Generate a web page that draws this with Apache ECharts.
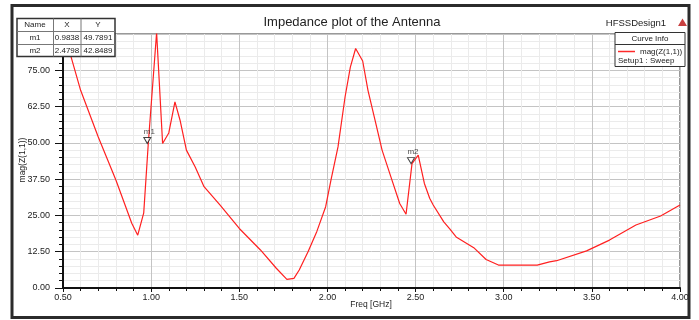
<!DOCTYPE html>
<html>
<head>
<meta charset="utf-8">
<script src="https://cdn.jsdelivr.net/npm/echarts@6/dist/echarts.min.js"></script>
<style>
html,body{margin:0;padding:0;background:#fff;}
#c{width:699px;height:320px;}
</style>
</head>
<body>
<div id="c"></div>
<script>
// Data
var freq = [0.50, 0.53, 0.60, 0.70, 0.80, 0.89, 0.924, 0.958, 0.9838, 1.031, 1.065, 1.10, 1.135, 1.164, 1.20, 1.25, 1.30, 1.39, 1.50, 1.62, 1.71, 1.77, 1.81, 1.84, 1.89, 1.94, 1.99, 2.02, 2.06, 2.10, 2.13, 2.16, 2.20, 2.23, 2.27, 2.31, 2.36, 2.41, 2.446, 2.4798, 2.515, 2.55, 2.58, 2.60, 2.66, 2.695, 2.73, 2.83, 2.90, 2.97, 3.11, 3.19, 3.26, 3.30, 3.47, 3.60, 3.75, 3.89, 4.00];
var magZ = [88.5, 83.0, 68.1, 52.0, 37.2, 22.3, 18.2, 25.9, 49.79, 88.0, 49.8, 53.4, 64.1, 57.8, 47.5, 41.7, 34.9, 28.6, 20.5, 13.1, 6.8, 3.0, 3.3, 6.2, 12.5, 19.5, 28.0, 37.2, 48.6, 65.8, 76.1, 82.5, 78.2, 68.1, 57.8, 47.5, 38.3, 29.1, 25.4, 42.85, 45.8, 36.0, 30.9, 28.6, 22.8, 20.3, 17.6, 13.9, 9.8, 7.9, 7.9, 7.9, 9.0, 9.4, 12.8, 16.5, 21.7, 24.8, 28.6];
var markerNames = ['m1', 'm2'];
var markerX = [0.9838, 2.4798];
var markerY = [49.7891, 42.8489];
var markerXText = ['0.9838', '2.4798'];
var markerYText = ['49.7891', '42.8489'];
var xTicks = {min: 0.5, max: 4.0, interval: 0.5};
var yTicks = {min: 0, max: 87.5, interval: 12.5};

var FONT = '"Liberation Sans", Arial, sans-serif';
var chart = echarts.init(document.getElementById('c'), null, {renderer: 'canvas'});

var lineData = freq.map(function (f, i) { return [f, magZ[i]]; });
var markData = markerNames.map(function (n, i) { return {name: n, value: [markerX[i], markerY[i]]}; });

function txt(x, y, s, size, align, extra) {
  var o = {type: 'text', x: x, y: y, z: 100, silent: true,
    style: {text: s, fill: '#222', font: size + 'px ' + FONT, textAlign: align || 'center', textVerticalAlign: 'middle'}};
  if (extra) { for (var k in extra) o[k] = extra[k]; }
  return o;
}
function ln(x1, y1, x2, y2, color, w) {
  return {type: 'line', z: 100, silent: true, shape: {x1: x1, y1: y1, x2: x2, y2: y2}, style: {stroke: color, lineWidth: w}};
}

var graphics = [
  {type: 'rect', z: 99, silent: true, shape: {x: 12, y: 5.5, width: 677, height: 312}, style: {fill: 'none', stroke: '#2b2b2b', lineWidth: 3}},
  txt(352, 22, 'Impedance plot of the Antenna', 13),
  txt(666, 23, 'HFSSDesign1', 9.5, 'right'),
  {type: 'polygon', z: 100, silent: true, shape: {points: [[682.5, 18.5], [678, 26], [687, 26]]}, style: {fill: '#c84040'}},
  // marker table
  {type: 'rect', z: 100, silent: true, shape: {x: 17, y: 18.5, width: 98, height: 38}, style: {fill: '#fff', stroke: '#333', lineWidth: 1.5}},
  ln(53.5, 18.5, 53.5, 56.5, '#777', 1),
  ln(81, 18.5, 81, 56.5, '#777', 1),
  ln(17, 31.5, 115, 31.5, '#777', 1),
  ln(17, 44.5, 115, 44.5, '#777', 1),
  txt(35, 25, 'Name', 8),
  txt(67, 25, 'X', 8),
  txt(98, 25, 'Y', 8),
  // legend box
  {type: 'rect', z: 100, silent: true, shape: {x: 615, y: 32.5, width: 70, height: 34}, style: {fill: '#fff', stroke: '#333', lineWidth: 1}},
  ln(615, 44.5, 685, 44.5, '#333', 1),
  txt(650, 38.5, 'Curve Info', 8),
  ln(618, 51.5, 635, 51.5, '#ff2a2a', 1.5),
  txt(640, 51.5, 'mag(Z(1,1))', 8, 'left'),
  txt(618, 61, 'Setup1 : Sweep', 8, 'left'),
  // axis names
  txt(22.5, 160, 'mag(Z(1,1))', 8.5, 'center', {rotation: Math.PI / 2}),
  txt(371, 305, 'Freq [GHz]', 8.5)
];
markerNames.forEach(function (n, i) {
  var cy = 38 + i * 12.5;
  graphics.push(txt(35, cy, n, 8));
  graphics.push(txt(67, cy, markerXText[i], 8));
  graphics.push(txt(98, cy, markerYText[i], 8));
});

chart.setOption({
  animation: false,
  backgroundColor: '#fff',
  grid: {left: 63, right: 19, top: 34, bottom: 32, show: true, borderColor: '#333', borderWidth: 1, backgroundColor: 'transparent'},
  xAxis: {
    type: 'value', min: xTicks.min, max: xTicks.max, interval: xTicks.interval,
    axisLine: {show: true, onZero: false, lineStyle: {color: '#111', width: 2}},
    axisTick: {show: true, inside: false, length: 4, lineStyle: {color: '#111'}},
    minorTick: {show: true, splitNumber: 5, length: 3, lineStyle: {color: '#111'}},
    splitLine: {show: true, lineStyle: {color: '#c4c4c4', width: 1}},
    minorSplitLine: {show: true, lineStyle: {color: '#ebebeb', width: 1}},
    axisLabel: {formatter: function (v) { return v.toFixed(2); }, fontSize: 9, color: '#222', fontFamily: FONT, margin: 5, showMinLabel: true, showMaxLabel: true}
  },
  yAxis: {
    type: 'value', min: yTicks.min, max: yTicks.max, interval: yTicks.interval,
    axisLine: {show: true, onZero: false, lineStyle: {color: '#111', width: 2}},
    axisTick: {show: true, inside: false, length: 8, lineStyle: {color: '#111'}},
    minorTick: {show: true, splitNumber: 5, length: 4, lineStyle: {color: '#111'}},
    splitLine: {show: true, lineStyle: {color: '#c4c4c4', width: 1}},
    minorSplitLine: {show: true, lineStyle: {color: '#ebebeb', width: 1}},
    axisLabel: {formatter: function (v) { return v.toFixed(2); }, fontSize: 9, color: '#222', fontFamily: FONT, margin: 13}
  },
  series: [
    {type: 'line', data: lineData, showSymbol: false, clip: true, lineStyle: {color: '#ff2020', width: 1.2}, z: 5},
    {type: 'scatter', data: markData, symbol: 'triangle', symbolRotate: 180, symbolSize: [7, 6], symbolOffset: [-1, -3],
      itemStyle: {color: '#fff', borderColor: '#111', borderWidth: 1}, z: 6,
      label: {show: true, formatter: '{b}', position: 'top', distance: 1, offset: [2, 0], fontSize: 8, color: '#222', fontFamily: FONT}}
  ],
  graphic: graphics
});
</script>
</body>
</html>
